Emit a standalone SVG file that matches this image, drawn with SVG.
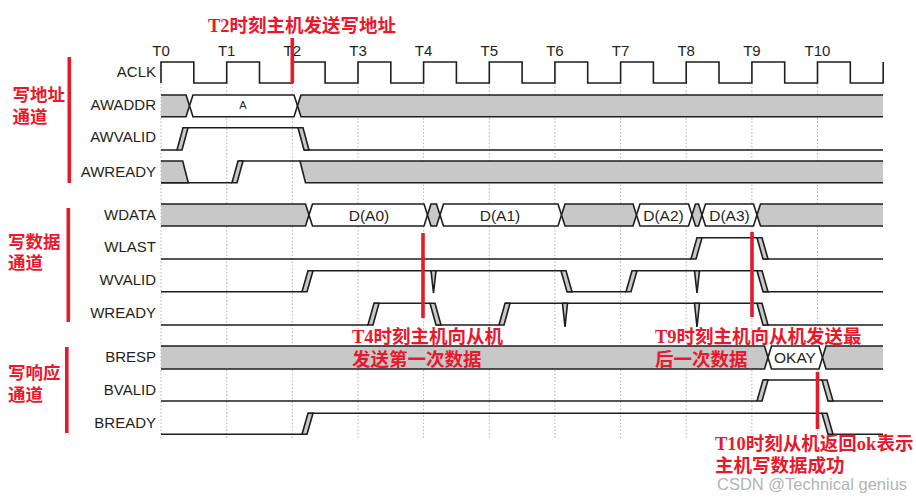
<svg xmlns="http://www.w3.org/2000/svg" width="916" height="500" viewBox="0 0 916 500">
<style>
.grid{stroke:#b4b4b4;stroke-width:1;stroke-dasharray:1.5 2;fill:none}
.ln{fill:none;stroke:#1e1e1e;stroke-width:1.6}
.gr{fill:#c8c8c8;stroke:#1e1e1e;stroke-width:1.6}
.wh{fill:#fff;stroke:#1e1e1e;stroke-width:1.6}
.lbl{font-family:"Liberation Sans",Arial,sans-serif;font-size:15px;fill:#231f20;text-anchor:end}
.tk{font-family:"Liberation Sans",Arial,sans-serif;font-size:15px;fill:#231f20;text-anchor:middle}
.val{font-family:"Liberation Sans",Arial,sans-serif;font-size:15.5px;fill:#231f20;text-anchor:middle}
.red{font-family:"Liberation Serif","Noto Sans CJK SC",serif;font-size:18.5px;fill:#e8192c;font-weight:bold}
.grp{font-family:"Liberation Serif","Noto Sans CJK SC",serif;font-size:17.5px;fill:#e8192c;font-weight:bold}
.bar{stroke:#e8192c;stroke-width:3.6;fill:none}
.wm{font-family:"Liberation Sans",Arial,sans-serif;font-size:16.5px;fill:#b4b4b4}
</style>
<rect width="916" height="500" fill="#fff"/>
<g id="grid" class="grid">
<path d="M161,62V438M226.7,62V438M292.3,62V438M358,62V438M423.6,62V438M489.3,62V438M554.9,62V438M620.6,62V438M686.2,62V438M751.9,62V438M817.5,62V438"/>
</g>
<g id="ticks" class="tk">
<text x="161" y="56">T0</text><text x="226.7" y="56">T1</text><text x="292.3" y="56">T2</text><text x="358" y="56">T3</text><text x="423.6" y="56">T4</text><text x="489.3" y="56">T5</text><text x="554.9" y="56">T6</text><text x="620.6" y="56">T7</text><text x="686.2" y="56">T8</text><text x="751.9" y="56">T9</text><text x="817.5" y="56">T10</text>
</g>
<g id="aclk">
<text class="lbl" x="156" y="77">ACLK</text>
<path class="ln" d="M161,83V62H193.8V83H226.7V62H259.5V83H292.3V62H325.1V83H358V62H390.8V83H423.6V62H456.4V83H489.3V62H522.1V83H554.9V62H587.7V83H620.6V62H653.4V83H686.2V62H719V83H751.9V62H784.7V83H817.5V62H850.3V83H883.2V62"/>
</g>
<g id="awaddr">
<text class="lbl" x="156" y="110">AWADDR</text>
<path class="gr" d="M161,95H186L189.5,105.85L186,116.7H161"/>
<path class="wh" d="M189.5,105.85L193,95H294L297.5,105.85L294,116.7H193Z"/>
<path class="gr" d="M883,95H301L297.5,105.85L301,116.7H883"/>
<text x="243" y="109" font-family="Liberation Sans,Arial,sans-serif" font-size="11" fill="#231f20" text-anchor="middle">A</text>
</g>
<g id="awvalid">
<text class="lbl" x="156" y="142">AWVALID</text>
<path class="ln" d="M161,150H177M183,127.7H298M304,150H883"/>
<polygon class="gr" points="177,150 182,150 188,127.7 183,127.7"/>
<polygon class="gr" points="298,127.7 303,127.7 309,150 304,150"/>
</g>
<g id="awready">
<text class="lbl" x="156" y="177">AWREADY</text>
<path class="gr" d="M161,161H182.7L188.3,182.7H161"/>
<path class="ln" d="M161,182.7H232M238,161H300"/>
<polygon class="gr" points="232,182.7 237,182.7 243,161 238,161"/>
<path class="gr" d="M883,161H300L305.5,182.7H883"/>
</g>
<g id="wdata">
<text class="lbl" x="156" y="220">WDATA</text>
<path class="gr" d="M161,204H305.5L309,215L305.5,226H161"/>
<path class="wh" d="M309,215L312.5,204H424L427.5,215L424,226H312.5Z"/>
<path class="gr" d="M427.5,215L431,204H436.5L440,215L436.5,226H431Z"/>
<path class="wh" d="M440,215L443.5,204H558L561.5,215L558,226H443.5Z"/>
<path class="gr" d="M561.5,215L565,204H633L636.5,215L633,226H565Z"/>
<path class="wh" d="M636.5,215L640,204H688.5L692,215L688.5,226H640Z"/>
<path class="gr" d="M692,215L695.5,204H698.5L702,215L698.5,226H695.5Z"/>
<path class="wh" d="M702,215L705.5,204H753.5L757,215L753.5,226H705.5Z"/>
<path class="gr" d="M883,204H760.5L757,215L760.5,226H883"/>
<text class="val" x="369" y="220.5">D(A0)</text>
<text class="val" x="500" y="220.5">D(A1)</text>
<text class="val" x="663.5" y="220.5">D(A2)</text>
<text class="val" x="729.5" y="220.5">D(A3)</text>
</g>
<g id="wlast">
<text class="lbl" x="156" y="252">WLAST</text>
<path class="ln" d="M161,259H691M697,237.7H757M763,259H883"/>
<polygon class="gr" points="691,259 696,259 702,237.7 697,237.7"/>
<polygon class="gr" points="757,237.7 762,237.7 768,259 763,259"/>
</g>
<g id="wvalid">
<text class="lbl" x="156" y="285">WVALID</text>
<path class="ln" d="M161,291.7H302M308,270.7H561M567,291.7H626M632,270.7H757M763,291.7H883"/>
<polygon class="gr" points="302,291.7 307,291.7 313,270.7 308,270.7"/>
<polygon class="gr" points="561,270.7 566,270.7 572,291.7 567,291.7"/>
<polygon class="gr" points="626,291.7 631,291.7 637,270.7 632,270.7"/>
<polygon class="gr" points="757,270.7 762,270.7 768,291.7 763,291.7"/>
<polygon class="gr" points="431,270.7 436,270.7 433.5,293"/>
<polygon class="gr" points="694.5,270.7 699.5,270.7 697,293"/>
</g>
<g id="wready">
<text class="lbl" x="156" y="318">WREADY</text>
<path class="ln" d="M161,325H368M374,303.3H430M436,325H499M505,303.3H757M763,325H883"/>
<polygon class="gr" points="368,325 373,325 379,303.3 374,303.3"/>
<polygon class="gr" points="430,303.3 435,303.3 441,325 436,325"/>
<polygon class="gr" points="499,325 504,325 510,303.3 505,303.3"/>
<polygon class="gr" points="757,303.3 762,303.3 768,325 763,325"/>
<polygon class="gr" points="562.5,303.3 567.5,303.3 565,327"/>
<polygon class="gr" points="694.5,303.3 699.5,303.3 697,327"/>
</g>
<g id="bresp">
<text class="lbl" x="156" y="362">BRESP</text>
<path class="gr" d="M161,346H764.5L768,357.5L764.5,369H161"/>
<path class="wh" d="M768,357.5L771.5,346H819L822.5,357.5L819,369H771.5Z"/>
<path class="gr" d="M883,346H826L822.5,357.5L826,369H883"/>
<text class="val" x="795" y="363">OKAY</text>
</g>
<g id="bvalid">
<text class="lbl" x="156" y="395">BVALID</text>
<path class="ln" d="M161,401H757M763,380H822M828,401H883"/>
<polygon class="gr" points="757,401 762,401 768,380 763,380"/>
<polygon class="gr" points="822,380 827,380 833,401 828,401"/>
</g>
<g id="bready">
<text class="lbl" x="156" y="428">BREADY</text>
<path class="ln" d="M161,434.3H302M308,413.3H822M828,434.3H883"/>
<polygon class="gr" points="302,434.3 307,434.3 313,413.3 308,413.3"/>
<polygon class="gr" points="822,413.3 827,413.3 833,434.3 828,434.3"/>
</g>
<g id="groups">
<path class="bar" d="M69.3,57V183M68.3,208V322M66.8,347V433"/>
<text class="grp" x="12.5" y="101">写地址</text><text class="grp" x="12.5" y="123">通道</text>
<text class="grp" x="8" y="248">写数据</text><text class="grp" x="8" y="269">通道</text>
<text class="grp" x="8" y="379">写响应</text><text class="grp" x="8" y="401">通道</text>
</g>
<g id="markers">
<path class="bar" d="M292.3,38V83M423,233V318M752,232V317M817.5,372V429"/>
<text class="red" x="208" y="31.5">T2时刻主机发送写地址</text>
<text class="red" x="352" y="343">T4时刻主机向从机</text>
<text class="red" x="352" y="366">发送第一次数据</text>
<text class="red" x="655" y="343">T9时刻主机向从机发送最</text>
<text class="red" x="655" y="366">后一次数据</text>
<text class="red" x="715" y="449.5">T10时刻从机返回ok表示</text>
<text class="red" x="715" y="471.5">主机写数据成功</text>
</g>
<text class="wm" x="717" y="490">CSDN @Technical genius</text>
</svg>
